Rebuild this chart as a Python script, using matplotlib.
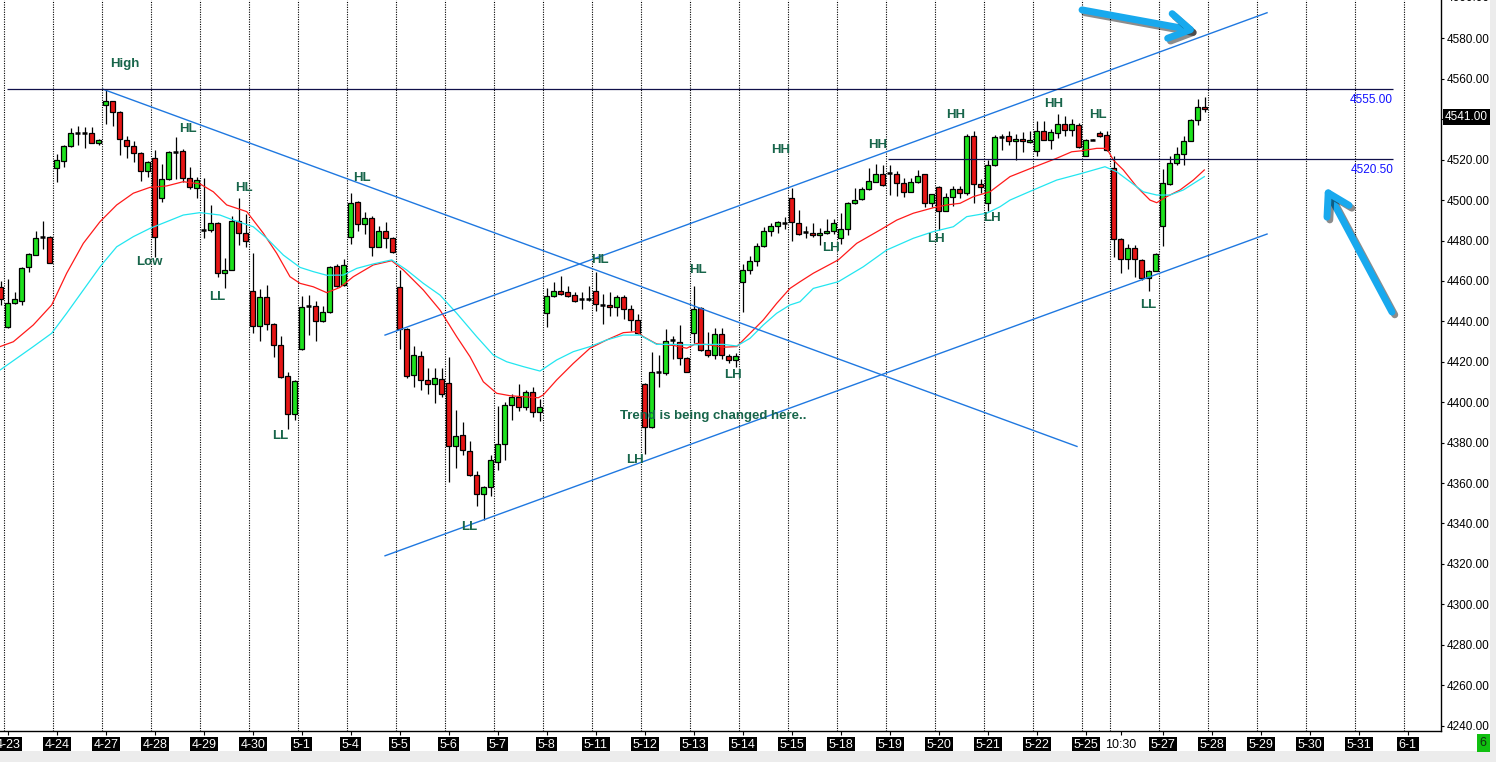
import numpy as np
import matplotlib.pyplot as plt
import matplotlib.patheffects as pe
import matplotlib.transforms as mtransforms
from matplotlib.patches import Rectangle

plt.rcParams['font.family'] = ['Liberation Sans', 'DejaVu Sans']

# sessions on the x axis (label, number of hourly bars)
session_labels = ['4-23', '4-24', '4-27', '4-28', '4-29', '4-30', '5-1', '5-4', '5-5', '5-6',
                  '5-7', '5-8', '5-11', '5-12', '5-13', '5-14', '5-15', '5-18', '5-19', '5-20',
                  '5-21', '5-22', '5-25', '10:30', '5-27', '5-28', '5-29', '5-30', '5-31', '6-1']
session_bars = [7] * 22 + [4, 7, 7, 7, 7, 7, 7, 7]

# hourly OHLC, first bar is the one left of 4-23
opens = [4457,
         4437, 4449, 4450, 4467, 4473, 4481.5, 4481.5,
         4516, 4519.5, 4527, 4533.3, 4533.5, 4533, 4528,
         4547, 4549, 4543.5, 4529.5, 4527, 4523.5, 4514.5,
         4521, 4501, 4510.5, 4524, 4524.5, 4511, 4506,
         4485, 4485, 4488.5, 4464, 4465.5, 4489.5, 4483.5,
         4455, 4437.5, 4452, 4438.5, 4428.5, 4413, 4394,
         4426.5, 4447.5, 4447.5, 4440, 4444.5, 4467.5, 4458,
         4481.5, 4499, 4488, 4491, 4477, 4484.5, 4481,
         4457, 4436, 4413.5, 4423, 4411, 4409, 4411.5,
         4409.5, 4378.5, 4384, 4376, 4364, 4354.5, 4358,
         4370.5, 4379.5, 4398.5, 4402.5, 4397.5, 4405, 4395,
         4444, 4452.5, 4455, 4454.5, 4453, 4451, 4451,
         4455, 4448, 4448, 4447, 4452, 4446, 4440.5,
         4409, 4387.5, 4415, 4414.5, 4430.5, 4430, 4422,
         4434, 4446.5, 4426, 4423.5, 4433.5, 4423, 4421,
         4459.5, 4465.5, 4470, 4477.5, 4484.5, 4487, 4488.5,
         4501, 4488.5, 4484, 4483.5, 4482.5, 4483.5, 4484.5,
         4481, 4485.5, 4498.5, 4500.5, 4505.5, 4509, 4513,
         4513.5, 4513, 4508.5, 4504, 4509, 4513, 4498.5,
         4506.5, 4494.5, 4501.5, 4505.5, 4503.5, 4531.5, 4508,
         4498.5, 4517.5, 4531, 4531.5, 4529, 4530, 4528.5,
         4524.5, 4534, 4529.5, 4533, 4537.5, 4534.5, 4537,
         4522, 4529.5, 4533, 4532,
         4516, 4480.5, 4471, 4476.5, 4470.5, 4461.5, 4465,
         4487, 4508, 4518.5, 4523, 4529, 4539.5, 4546]
highs = [4460,
         4461, 4454.5, 4467, 4474, 4484.5, 4489.5, 4482,
         4523, 4527.5, 4535.5, 4536.5, 4536, 4536, 4530,
         4555, 4549, 4544, 4531.5, 4529, 4524, 4519.5,
         4525, 4518, 4524.5, 4531, 4525.5, 4516.5, 4511.5,
         4511, 4497.5, 4489, 4471.5, 4492, 4501, 4493,
         4474, 4456, 4458, 4439, 4432.5, 4415, 4411,
         4452.5, 4453, 4450, 4447.5, 4467.5, 4468.5, 4471,
         4503.5, 4499.5, 4494, 4492, 4487, 4489, 4481.5,
         4465.5, 4436.5, 4428, 4425.5, 4417, 4417, 4417,
         4422.5, 4396, 4390, 4381, 4366, 4358.5, 4374,
         4398, 4400, 4404, 4409, 4406, 4407.5, 4401.5,
         4456.5, 4459.5, 4462.5, 4457.5, 4454.5, 4454.5, 4457.5,
         4464.5, 4453.5, 4454.5, 4453, 4453, 4448, 4443.5,
         4409.5, 4425, 4423.5, 4436, 4432.5, 4438, 4422.5,
         4457.5, 4447, 4434.5, 4436.5, 4436.5, 4424, 4424.5,
         4468.5, 4472.5, 4479, 4486.5, 4488.5, 4489.5, 4491.5,
         4506, 4495, 4487, 4488.5, 4486, 4490.5, 4490.5,
         4493.5, 4499, 4506, 4506.5, 4516, 4518, 4517.5,
         4517.5, 4514.5, 4511, 4511, 4515, 4513, 4503,
         4507, 4503.5, 4507, 4507, 4532.5, 4534, 4510.5,
         4520, 4532, 4532.5, 4534, 4532.5, 4533.5, 4534,
         4539, 4539, 4535, 4542.5, 4541.5, 4540, 4538,
         4530, 4530, 4534, 4534,
         4522, 4481, 4478.5, 4478, 4471, 4465.5, 4474,
         4515.5, 4522, 4526.5, 4531.5, 4540, 4550, 4551]
lows = [4448,
        4436.5, 4448.5, 4448, 4464.5, 4473, 4476, 4469,
        4509, 4516.5, 4526.5, 4527.5, 4526, 4528, 4527.5,
        4537.5, 4536.5, 4522.5, 4521, 4519, 4509.5, 4511.5,
        4472, 4499, 4510, 4510.5, 4509, 4505.5, 4501,
        4481, 4484, 4462, 4456.5, 4465.5, 4478, 4477,
        4434, 4430.5, 4435.5, 4422.5, 4412, 4386.5, 4391,
        4426, 4433, 4430.5, 4439.5, 4444, 4457, 4457.5,
        4478.5, 4484.5, 4483, 4472.5, 4477, 4476.5, 4474,
        4426.5, 4412, 4407.5, 4406, 4404, 4399.5, 4402.5,
        4360.5, 4367.5, 4374, 4363.5, 4348.5, 4341.5, 4353.5,
        4366.5, 4371.5, 4391, 4395.5, 4396, 4392.5, 4390.5,
        4437, 4452, 4453, 4452, 4449.5, 4446, 4450,
        4445, 4438.5, 4442.5, 4442.5, 4441, 4435, 4433.5,
        4374.5, 4387, 4407.5, 4413.5, 4421.5, 4418.5, 4415,
        4429.5, 4425.5, 4422.5, 4421.5, 4421.5, 4419.5, 4417.5,
        4444.5, 4463.5, 4467.5, 4477, 4482, 4483.5, 4485.5,
        4480, 4482.5, 4481, 4481.5, 4478, 4483, 4483,
        4478.5, 4482.5, 4498, 4500, 4505, 4509, 4507,
        4502.5, 4502, 4501.5, 4504, 4508.5, 4496.5, 4496.5,
        4485, 4494.5, 4497, 4501, 4502.5, 4498.5, 4503.5,
        4494.5, 4517, 4525, 4527.5, 4520, 4524, 4528,
        4522, 4529.5, 4525.5, 4530.5, 4531.5, 4531.5, 4526,
        4522, 4529.5, 4531, 4524.5,
        4472, 4464, 4466, 4462, 4460.5, 4455, 4465,
        4477.5, 4507.5, 4517.5, 4517.5, 4529, 4537, 4543.5]
closes = [4451,
          4449, 4451, 4466.5, 4473.5, 4481, 4481.5, 4469,
          4520, 4527, 4533, 4533.3, 4533, 4528, 4529.5,
          4549, 4543.5, 4530, 4527, 4523.5, 4514.5, 4519,
          4481.5, 4510.5, 4524, 4524, 4511, 4506.5, 4510,
          4485, 4488.5, 4464, 4465.5, 4489.5, 4483.5, 4480,
          4437.5, 4452, 4438.5, 4428.5, 4412.5, 4394, 4410.5,
          4447, 4447.5, 4440, 4444.5, 4467, 4457.5, 4468,
          4498.5, 4488, 4491, 4477, 4484.5, 4481, 4474.5,
          4436, 4413, 4423.5, 4411, 4409, 4412, 4404,
          4378.5, 4383.5, 4376.5, 4364, 4354.5, 4358, 4371.5,
          4379.5, 4398.5, 4402.5, 4397.5, 4405, 4395, 4397.5,
          4452.5, 4455, 4453.5, 4452.5, 4450, 4451, 4451,
          4448.5, 4448, 4447, 4452, 4446, 4440.5, 4434,
          4387.5, 4415, 4415, 4430.5, 4431, 4422, 4415,
          4446, 4426, 4423.5, 4433.5, 4423.5, 4421, 4423,
          4465.5, 4470, 4477.5, 4484.5, 4487, 4489, 4488.5,
          4489, 4483, 4484, 4482.5, 4483.5, 4484.5, 4488.5,
          4485.5, 4498.5, 4500, 4505.5, 4509.5, 4513, 4507.5,
          4513.5, 4508.5, 4504, 4509, 4512, 4498.5, 4503,
          4494.5, 4501.5, 4505.5, 4503.5, 4531.5, 4508, 4506.5,
          4517.5, 4531, 4531, 4529, 4530, 4529, 4529.5,
          4534, 4529.5, 4533.5, 4537.5, 4534.5, 4537.5, 4526.5,
          4529.5, 4529.5, 4531.5, 4525,
          4480.5, 4471, 4476.5, 4471, 4461.5, 4465, 4473.5,
          4508.5, 4518.5, 4523, 4529, 4539.5, 4546, 4545]

# moving averages (bar position, price)
red_ma_bar = [-1.11, 0.79, 3.64, 6.27, 8.41, 10.79, 13.17, 15.56, 17.93, 20.31, 22.7, 25.07,
              27.46, 29.36, 31.27, 34.13, 36.5, 38.41, 40.31, 41.74, 43.64, 45.56, 47.46,
              49.36, 52.21, 54.84, 56.5, 59.36, 61.74, 64.13, 66.03, 67.93, 69.84, 71.74,
              73.64, 75.79, 76.5, 78.41, 80.79, 83.17, 85.56, 87.93, 89.84, 90.79, 92.7,
              95.07, 96.99, 98.41, 100.31, 102.21, 104.13, 106.03, 107.93, 109.84, 111.74,
              113.17, 115.07, 118.64, 121.27, 124.6, 126.99, 129.36, 132.21, 134.13, 136.03,
              137.93, 140.31, 143.17, 146.5, 149.84, 151.99, 153.41, 155.56, 156.99, 157.93,
              159.36, 161.27, 163.17, 164.13, 165.56, 167.46, 169.36, 170.93]
red_ma_val = [4427.5, 4429.9, 4438.2, 4448.1, 4463.8, 4478.6, 4489.3, 4497.6, 4503.4, 4506.3,
              4507.0, 4509.1, 4508.0, 4504.1, 4497.6, 4494.3, 4483.6, 4473.7, 4462.1, 4458.8,
              4457.1, 4454.2, 4456.8, 4462.1, 4467.9, 4470.0, 4465.4, 4455.5, 4445.6, 4432.4,
              4422.5, 4410.1, 4404.4, 4403.2, 4402.7, 4402.2, 4403.6, 4411.0, 4419.2, 4426.7,
              4430.8, 4434.4, 4434.9, 4432.4, 4428.8, 4428.1, 4426.7, 4429.1, 4428.3, 4427.2,
              4427.5, 4434.1, 4440.7, 4448.9, 4456.3, 4459.6, 4463.8, 4470.4, 4478.6, 4485.2,
              4490.1, 4493.5, 4496.2, 4497.6, 4498.4, 4501.7, 4504.1, 4511.6, 4516.2, 4520.7,
              4523.9, 4524.4, 4525.6, 4525.6, 4519.8, 4514.9, 4506.6, 4500.0, 4498.7, 4501.7,
              4505.0, 4509.9, 4514.9]
cyan_ma_bar = [-1.11, 1.27, 3.64, 6.27, 8.41, 10.79, 13.17, 15.56, 17.93, 20.31, 22.7, 25.07,
               27.46, 30.31, 32.21, 35.07, 36.99, 39.36, 41.74, 43.64, 45.56, 47.93, 49.84,
               52.21, 54.84, 56.99, 59.36, 61.74, 64.13, 66.99, 69.36, 71.27, 73.64, 76.03,
               78.41, 80.79, 83.17, 85.56, 87.93, 90.31, 92.7, 95.07, 97.46, 99.84, 102.21,
               104.13, 106.03, 107.93, 109.84, 111.74, 113.17, 115.07, 118.64, 122.21, 125.56,
               129.36, 132.21, 135.07, 136.99, 139.84, 141.74, 143.17, 146.5, 149.84, 153.41,
               156.74, 158.41, 160.31, 162.21, 164.13, 166.03, 167.93, 170.93]
cyan_ma_val = [4415.9, 4421.7, 4427.5, 4434.1, 4444.0, 4455.5, 4467.0, 4476.9, 4481.9, 4486.0,
               4489.3, 4492.6, 4493.8, 4492.6, 4490.1, 4486.8, 4481.1, 4472.8, 4466.7, 4464.6,
               4462.8, 4462.9, 4466.2, 4468.4, 4470.4, 4465.4, 4458.8, 4453.0, 4444.0, 4432.4,
               4423.3, 4420.0, 4417.6, 4415.4, 4420.9, 4425.0, 4427.5, 4430.8, 4433.2, 4433.2,
               4428.6, 4428.6, 4428.3, 4428.6, 4428.6, 4427.8, 4431.6, 4438.2, 4444.0, 4448.1,
               4449.7, 4456.3, 4459.6, 4467.0, 4475.3, 4481.1, 4484.4, 4486.8, 4491.8, 4493.5,
               4496.7, 4500.0, 4505.0, 4509.9, 4513.2, 4516.5, 4514.0, 4509.1, 4504.1, 4502.5,
               4502.5, 4505.0, 4511.6]

# drawn lines (bar position, price)
down_line_bar = [13.64, 152.74]
down_line_val = [4554.8, 4378.1]
channel_bar = [53.89, 179.89]
channel_top = [4433.2, 4592.7]
channel_bottom = [4324.0, 4483.2]
levels = [4555.0, 4520.5]
level_start = [-0.11, 125.7]
level_end = 197.9
last_price = 4541.0

# swing labels (text, bar position, price)
swing_text = ['High', 'HL', 'Low', 'HL', 'LL', 'LL', 'HL', 'LL', 'HL', 'LH', 'HL', 'LH',
              'HH', 'LH', 'HH', 'LH', 'HH', 'LH', 'HH', 'HL', 'LL']
swing_bar = [16.74, 25.74, 20.17, 33.74, 29.89, 38.89, 50.6, 65.89, 84.6, 89.6, 98.6, 103.6,
             110.46, 117.6, 124.31, 132.6, 135.46, 140.6, 149.46, 155.74, 162.89]
swing_val = [4567.3, 4535.2, 4469.4, 4506.0, 4452.0, 4383.3, 4510.9, 4338.2, 4470.4, 4371.4,
             4465.4, 4413.4, 4524.8, 4476.3, 4527.3, 4480.7, 4542.1, 4491.1, 4547.5, 4542.1,
             4448.1]
note_text = 'Trend is being changed here..'
note_bar, note_val = 100.74, 4393.2

# blue arrows (tail, head) as (bar, price)
arrows = [((153.46, 4594.1), (169.89, 4583.7)),
          ((197.74, 4444.6), (188.17, 4506.5))]

green = '#1de21d'
red = '#e61515'
label_green = '#17654a'
line_blue = '#1f78e0'

fig = plt.figure(figsize=(14.96, 7.62), dpi=100)
ax = fig.add_axes([0, 31 / 762, 1441 / 1496, 731 / 762])
ax.set_xlim(-1.114, 204.74)
ax.set_ylim(4237.3, 4599.0)

# session separators
starts = np.concatenate([[0], np.cumsum(session_bars)[:-1]])
for s in starts:
    ax.axvline(s - 0.5, color='black', lw=0.8, ls=(0, (1, 1.2)), zorder=1)

# candles
x = np.arange(len(opens)) - 1
o, h, l, c = map(np.array, (opens, highs, lows, closes))
ax.vlines(x, l, h, color='black', lw=0.9, zorder=2)
body = np.abs(c - o)
doji = body < 0.6
cols = np.where(c > o, green, red)
ax.bar(x[~doji], body[~doji], bottom=np.minimum(o, c)[~doji], width=0.72,
       color=cols[~doji], edgecolor='black', linewidth=0.9, zorder=3)
ax.hlines(c[doji], x[doji] - 0.38, x[doji] + 0.38, color='black', lw=1.8, zorder=3)

# moving averages
ax.plot(red_ma_bar, red_ma_val, color='#ff1a1a', lw=0.9, zorder=4)
ax.plot(cyan_ma_bar, cyan_ma_val, color='#22e6f0', lw=0.9, zorder=4)

# trend lines
ax.plot(down_line_bar, down_line_val, color=line_blue, lw=1, zorder=4)
ax.plot(channel_bar, channel_top, color=line_blue, lw=1, zorder=4)
ax.plot(channel_bar, channel_bottom, color=line_blue, lw=1, zorder=4)

# price levels
for lv, st in zip(levels, level_start):
    ax.hlines(lv, st, level_end, color='#10104a', lw=0.9, zorder=4)
    ax.text(level_end, lv - 2.5, f'{lv:.2f}', color='#1010ff', fontsize=8.5,
            ha='right', va='top', zorder=5)

# swing labels
for t, bx, by in zip(swing_text, swing_bar, swing_val):
    ax.text(bx, by, t, color=label_green, fontsize=9.5, fontweight='bold',
            ha='center', va='center', zorder=6)
ax.text(note_bar, note_val, note_text, color=label_green, fontsize=9.5,
        fontweight='bold', ha='center', va='center', zorder=6)

# arrows
for tail, head in arrows:
    ann = ax.annotate('', xy=head, xytext=tail,
                      arrowprops=dict(arrowstyle='->,head_length=0.75,head_width=0.45',
                                      lw=5, color='#18a9ee', shrinkA=0, shrinkB=0,
                                      mutation_scale=20, capstyle='round',
                                      joinstyle='round'), zorder=7)
    ann.arrow_patch.set_path_effects([pe.SimpleLineShadow(offset=(2, -2), alpha=0.45),
                                      pe.Normal()])

# axes styling
for side in ('left', 'top'):
    ax.spines[side].set_visible(False)
ax.spines['right'].set_linewidth(1)
ax.spines['bottom'].set_linewidth(1)

yt = np.arange(4240, 4600, 20)
ax.yaxis.tick_right()
ax.set_yticks(yt)
# the 4540 label sits under the last-price marker
ax.set_yticklabels(['' if v == 4540 else f'{v:.2f}' for v in yt], fontsize=8.5)
ax.tick_params(axis='y', direction='out', length=2.2, pad=2, width=0.8)
blend = mtransforms.blended_transform_factory(ax.transAxes, ax.transData)
ax.text(1.0 + 6 / 1441, 4600, '4600.00', transform=blend,
        fontsize=8.5, va='center', ha='left', clip_on=False)

# the 5-26 session is labelled by its second bar time
tick_pos = [s + 1 if lab == '10:30' else s for s, lab in zip(starts, session_labels)]
ax.set_xticks(tick_pos)
ax.set_xticklabels(session_labels, fontsize=9)
ax.tick_params(axis='x', direction='out', length=3, pad=2.6, width=0.8)
for lab in ax.get_xticklabels():
    if lab.get_text() == '10:30':
        lab.set_color('black')
    else:
        lab.set_color('white')
        lab.set_bbox(dict(facecolor='black', edgecolor='none', pad=1.3))

ax.text(1.0 + 4 / 1441, last_price, '4541.00', transform=blend, color='white',
        fontsize=8.5, ha='left', va='center', clip_on=False, zorder=8,
        bbox=dict(facecolor='black', edgecolor='none', pad=1.5))

# window chrome around the chart
fig.patches.append(Rectangle((0, 0), 1, 11 / 762, transform=fig.transFigure,
                             facecolor='#ececec', edgecolor='none', zorder=0))
fig.patches.append(Rectangle((1490 / 1496, 0), 6 / 1496, 1, transform=fig.transFigure,
                             facecolor='#ececec', edgecolor='none', zorder=0))
fig.text(1483 / 1496, 1 - 743 / 762, '6', fontsize=9, color='#103010', ha='center', va='center',
         bbox=dict(facecolor='#10c010', edgecolor='none', pad=2.2))

fig.savefig('out.png', dpi=100)
